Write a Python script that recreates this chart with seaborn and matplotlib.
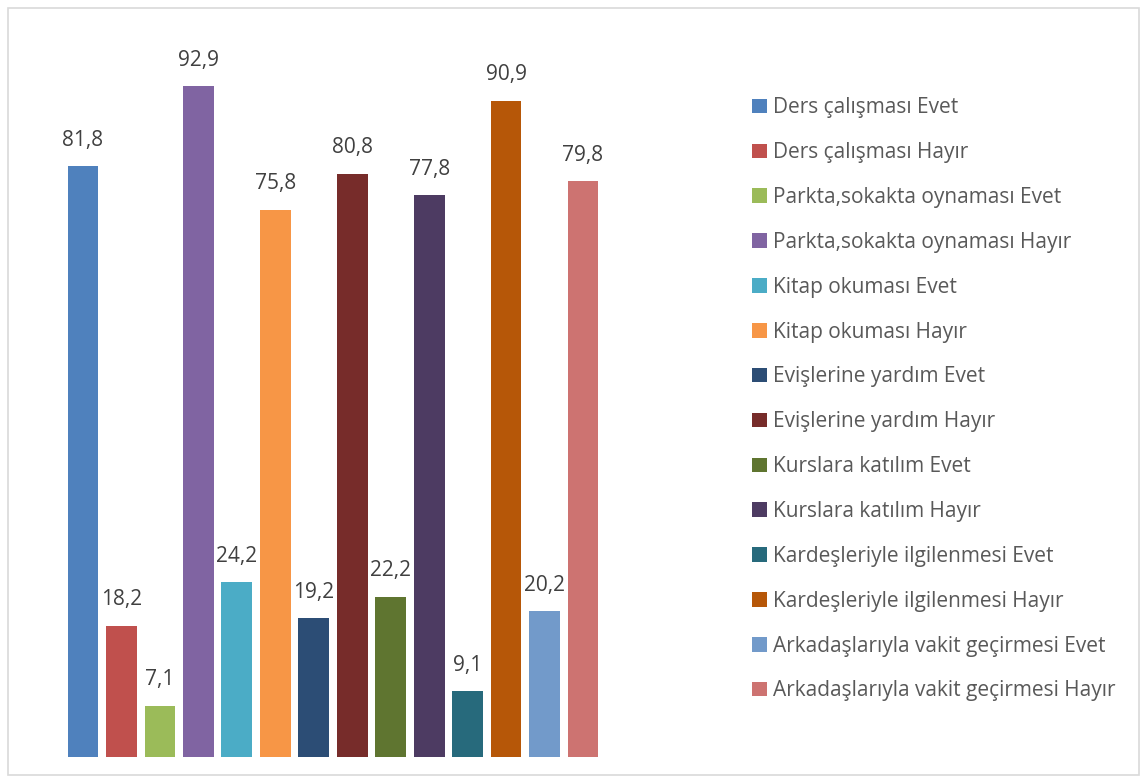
import matplotlib
matplotlib.use('Agg')
import matplotlib.pyplot as plt
from matplotlib.patches import Patch, Rectangle
import seaborn as sns
import pandas as pd

labels = [
    "Ders çalışması Evet", "Ders çalışması Hayır",
    "Parkta,sokakta oynaması Evet", "Parkta,sokakta oynaması Hayır",
    "Kitap okuması Evet", "Kitap okuması Hayır",
    "Evişlerine yardım Evet", "Evişlerine yardım Hayır",
    "Kurslara katılım Evet", "Kurslara katılım Hayır",
    "Kardeşleriyle ilgilenmesi Evet", "Kardeşleriyle ilgilenmesi Hayır",
    "Arkadaşlarıyla vakit geçirmesi Evet", "Arkadaşlarıyla vakit geçirmesi Hayır",
]
values = [81.8, 18.2, 7.1, 92.9, 24.2, 75.8, 19.2, 80.8, 22.2, 77.8, 9.1, 90.9, 20.2, 79.8]
colors = ["#4F81BD", "#C0504D", "#9BBB59", "#8064A2", "#4BACC6", "#F79646", "#2C4D75",
          "#772C2A", "#5F7530", "#4D3B62", "#276A7C", "#B65708", "#729ACA", "#CD7371"]

sns.set_style("white")
plt.rcParams['font.family'] = ['Open Sans', 'DejaVu Sans']

df = pd.DataFrame({"label": labels, "value": values})
fig = plt.figure(figsize=(11.41, 7.80), dpi=100)
W, H = 1141, 780
ax = fig.add_axes([63.75 / W, 1 - 757 / H, (602.25 - 63.75) / W, 722 / H])
sns.barplot(data=df, x="label", y="value", hue="label", palette=colors,
            dodge=False, legend=False, saturation=1, width=0.8, linewidth=0, ax=ax)
ax.set_ylim(0, 100)
ax.set_xlim(-0.5, len(labels) - 0.5)
ax.axis("off")

# value labels with comma decimals
for i, v in enumerate(values):
    ax.annotate(f"{v:.1f}".replace(".", ","), (i, v), xytext=(0, 11),
                textcoords="offset points", ha="center", va="bottom",
                fontsize=15, color="#404040")

handles = [Patch(facecolor=c, edgecolor="none") for c in colors]
fig.legend(handles, labels, loc="upper left", bbox_to_anchor=(744 / W, 1 - 89 / H),
           frameon=False, fontsize=15, labelcolor="#595959",
           handlelength=0.7, handleheight=0.7, handletextpad=0.3,
           labelspacing=1.145, borderaxespad=0)

fig.patches.append(Rectangle((8 / W, 5 / H), 1 - 10 / W, 1 - 13 / H,
                             transform=fig.transFigure, fill=False,
                             edgecolor="#D9D9D9", linewidth=1.2))

fig.savefig("out.png", dpi=100)
